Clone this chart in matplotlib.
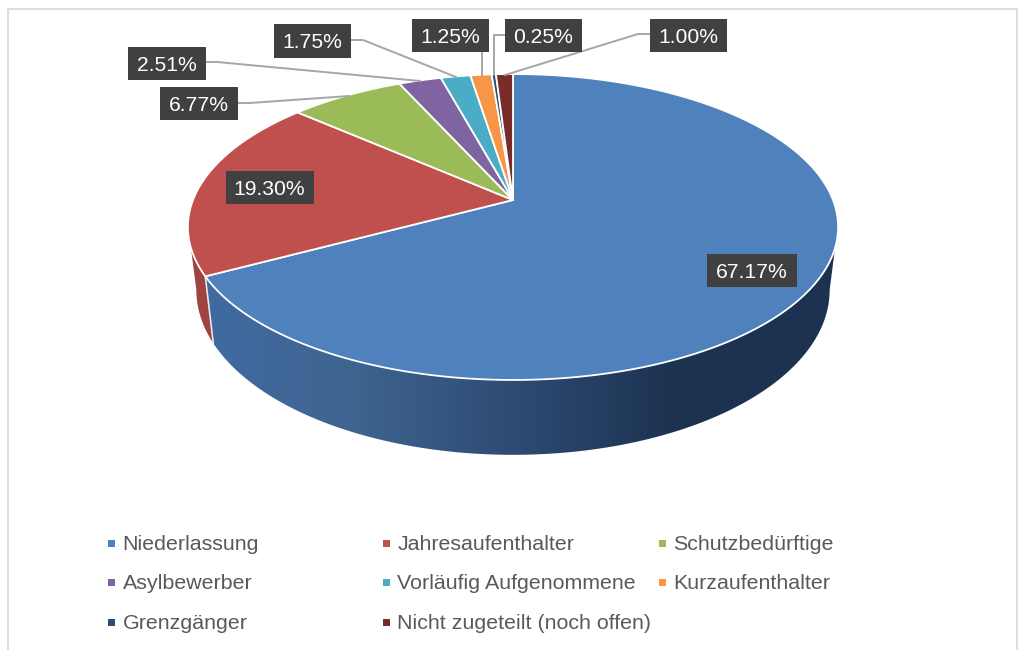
#!/usr/bin/env python3
"""3D-look pie of residence permit shares, drawn in pixel coordinates."""
import numpy as np
import matplotlib
matplotlib.use("Agg")
import matplotlib.pyplot as plt
from matplotlib.colors import LinearSegmentedColormap
from matplotlib.patches import Polygon, Rectangle

plt.rcParams["font.family"] = ["Liberation Sans", "DejaVu Sans"]

categories = ["Niederlassung", "Jahresaufenthalter", "Schutzbedürftige",
              "Asylbewerber", "Vorläufig Aufgenommene", "Kurzaufenthalter",
              "Grenzgänger", "Nicht zugeteilt (noch offen)"]
shares = [67.17, 19.30, 6.77, 2.51, 1.75, 1.25, 0.25, 1.00]
colors = ["#4f81bd", "#c0504d", "#9bbb59", "#8064a2",
          "#4bacc6", "#f79646", "#2c4d75", "#772c2a"]
labels = ["67.17%", "19.30%", "6.77%", "2.51%", "1.75%", "1.25%", "0.25%", "1.00%"]

# label boxes: x0, y0, x1, y1 in pixels
BOXES = [(707, 254, 797, 287), (226, 171, 314, 204), (160, 87, 238, 120),
         (128, 47, 206, 80), (274, 24, 351, 58), (412, 19, 489, 52),
         (505, 19, 582, 52), (650, 19, 727, 52)]
LEADERS = [None, None,
           [(238, 103), (250, 103), (349, 96)],
           [(206, 62), (217, 62), (420, 81)],
           [(351, 40), (363, 40), (456, 77)],
           [(482, 52), (482, 75)],
           [(505, 35), (494, 35), (494, 74)],
           [(650, 34), (638, 34), (505, 75)]]

CX, CY = 513, 200      # where the slices meet
K, A, B = 0.1765, 148.2, 320.0   # perspective of the top disc
T_TOP, T_BOT = 1.882, 1.748      # where the silhouette leaves each rim


def top_rim(t):
    s, c = np.sin(t), np.cos(t)
    d = 1 + K * c
    return CX + B * s / d, CY - A * c / d


def bottom_rim(t):
    x, y = top_rim(t)
    return CX + 0.974 * (x - CX), CY + 61 + 1.077 * (y - CY)


def wall(t0, t1, t2, t3):
    """Top rim t0..t1, then bottom rim t2..t3."""
    xt, yt = top_rim(np.linspace(t0, t1, 200))
    xb, yb = bottom_rim(np.linspace(t2, t3, 200))
    return np.r_[np.c_[xt, yt], np.c_[xb, yb]]


fig = plt.figure(figsize=(10.18, 6.5), dpi=100)
ax = fig.add_axes([0, 0, 1, 1])

edges = 2 * np.pi * np.r_[0, np.cumsum(shares)] / 100.0

# side walls first, the top disc hides what sticks out behind it
red_wall = Polygon(wall(edges[1], 2 * np.pi - T_TOP, 2 * np.pi - T_BOT, edges[1]),
                   fc="#a0423f", ec="none", zorder=1)
ax.add_patch(red_wall)
blue_wall = Polygon(wall(T_TOP, edges[1], edges[1], T_BOT), fc="none", ec="none", zorder=2)
ax.add_patch(blue_wall)
grad = LinearSegmentedColormap.from_list(
    "wall", ["#3f6ca3", "#3f6490", "#2d4b73", "#1c3250", "#1c3250"])
img = ax.imshow(np.linspace(0, 1, 256)[None, :], cmap=grad, aspect="auto",
                extent=(190, 840, 470, 180), zorder=2)
img.set_clip_path(blue_wall)

# white seam between the two walls
x0, y0 = top_rim(edges[1])
x1, y1 = bottom_rim(edges[1])
ax.plot([x0, x1], [y0, y1], color="#e8e8e8", lw=1.2, zorder=3)

# top disc
for i, col in enumerate(colors):
    t = np.linspace(edges[i], edges[i + 1], 200)
    xs, ys = top_rim(t)
    pts = np.r_[[(CX, CY)], np.c_[xs, ys]]
    ax.add_patch(Polygon(pts, fc=col, ec="white", lw=1.3, joinstyle="round", zorder=4))

# leader lines and value labels
for path in LEADERS:
    if path is not None:
        px, py = zip(*path)
        ax.plot(px, py, color="#a6a6a6", lw=1.4, zorder=5)
for text, (bx0, by0, bx1, by1) in zip(labels, BOXES):
    ax.add_patch(Rectangle((bx0, by0), bx1 - bx0, by1 - by0, fc="#404040", ec="none", zorder=6))
    ax.text((bx0 + bx1) / 2 - 0.5, (by0 + by1) / 2 + 7.5, text, color="white", fontsize=15.2,
            ha="center", va="baseline", zorder=7)

# legend
LEG_X = [112, 387, 663]
LEG_Y = [543, 582, 622]
for i, (name, col) in enumerate(zip(categories, colors)):
    lx, ly = LEG_X[i % 3], LEG_Y[i // 3]
    ax.add_patch(Rectangle((lx - 3.5, ly - 3.5), 7, 7, fc=col, ec="none"))
    ax.text(lx + 10.5, ly + 7, name, color="#595959", fontsize=15.4, ha="left", va="baseline")

# chart frame, cut off at the bottom
ax.plot([8, 8, 1017, 1017], [650, 8.5, 8.5, 650], color="#dedede", lw=1.5)

ax.set_xlim(0, 1018)
ax.set_ylim(650, 0)
ax.axis("off")
fig.savefig("out.png", dpi=100, facecolor="white")
